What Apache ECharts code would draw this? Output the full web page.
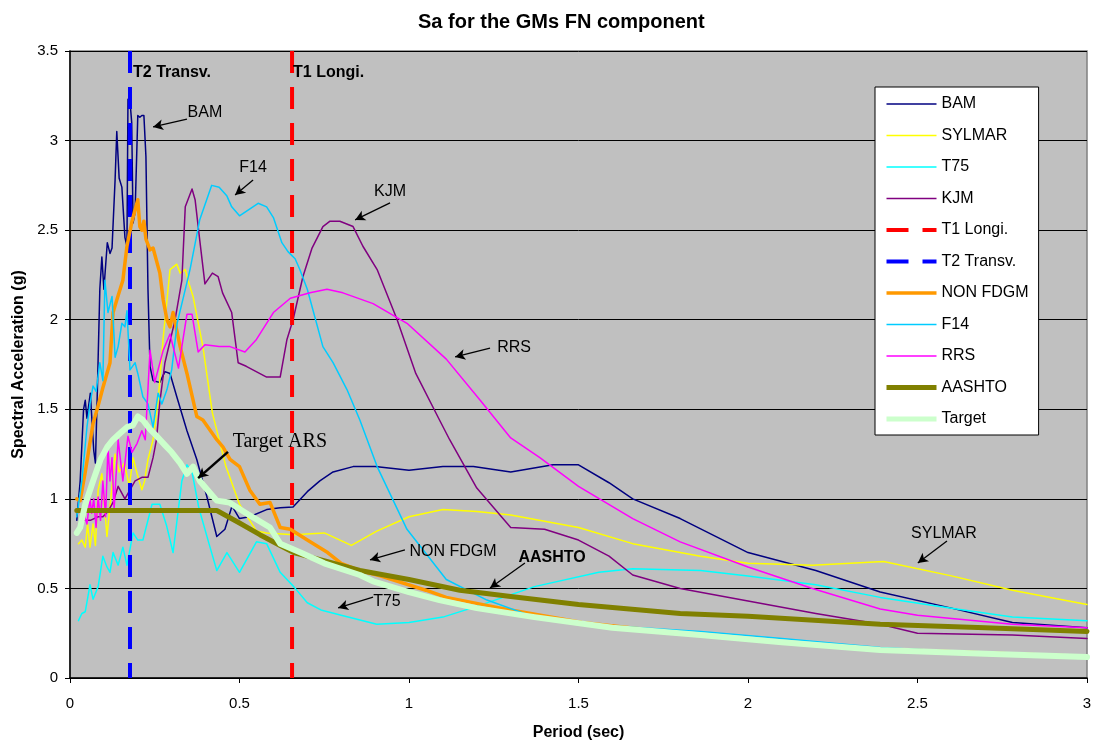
<!DOCTYPE html>
<html><head><meta charset="utf-8">
<script src="https://cdn.jsdelivr.net/npm/echarts@6/dist/echarts.min.js"></script>
<style>html,body{margin:0;padding:0;background:#fff}#c{width:1093px;height:742px}</style>
</head><body><div id="c"></div>
<script>
// ---- data (period in sec, spectral acceleration in g) ----
const bamT  = [0.02,0.03,0.04,0.045,0.05,0.06,0.07,0.075,0.08,0.088,0.094,0.1,0.11,0.118,0.124,0.133,0.138,0.145,0.153,0.162,0.168,0.171,0.177,0.182,0.186,0.192,0.2,0.206,0.212,0.218,0.224,0.23,0.236,0.245,0.265,0.28,0.295,0.315,0.345,0.374,0.404,0.433,0.457,0.478,0.5,0.53,0.58,0.62,0.658,0.7,0.737,0.776,0.835,0.9,1.0,1.1,1.19,1.3,1.425,1.5,1.59,1.66,1.8,2.0,2.2,2.39,2.6,2.78,3.0];
const bamSa = [0.88,1.1,1.5,1.55,1.45,1.59,1.27,1.2,1.55,2.17,2.35,2.17,2.43,2.37,2.4,2.78,3.05,2.79,2.74,2.46,2.41,3.23,3.22,3.1,2.54,2.6,3.14,3.13,3.14,3.14,2.91,2.17,1.74,1.66,1.65,1.71,1.7,1.57,1.38,1.22,1.01,0.79,0.83,0.96,0.89,0.9,0.94,0.95,0.955,1.04,1.1,1.15,1.18,1.18,1.16,1.18,1.18,1.15,1.19,1.19,1.09,1.0,0.89,0.7,0.6,0.48,0.39,0.31,0.28];

const sylT  = [0.025,0.03,0.035,0.045,0.052,0.059,0.068,0.075,0.083,0.094,0.109,0.124,0.133,0.145,0.16,0.175,0.186,0.198,0.212,0.22,0.23,0.245,0.26,0.275,0.295,0.315,0.325,0.34,0.348,0.363,0.392,0.42,0.46,0.5,0.53,0.55,0.58,0.66,0.75,0.83,0.905,1.0,1.1,1.2,1.3,1.5,1.66,1.86,2.0,2.19,2.4,2.6,2.78,3.0];
const sylSa = [0.75,0.74,0.77,0.73,0.86,0.73,0.86,0.74,1.05,1.14,0.79,1.07,1.25,1.15,1.2,1.07,1.23,1.14,1.05,1.1,1.22,1.33,1.55,1.9,2.28,2.31,2.26,2.28,2.22,2.13,1.85,1.48,1.18,0.97,0.88,0.82,0.81,0.8,0.81,0.74,0.82,0.9,0.94,0.93,0.91,0.84,0.75,0.68,0.64,0.63,0.65,0.57,0.49,0.41];

const t75T  = [0.025,0.035,0.045,0.059,0.068,0.083,0.097,0.109,0.118,0.127,0.142,0.156,0.168,0.186,0.2,0.215,0.242,0.265,0.285,0.304,0.33,0.345,0.36,0.38,0.41,0.433,0.463,0.5,0.55,0.58,0.62,0.66,0.7,0.74,0.8,0.905,1.0,1.1,1.2,1.37,1.56,1.66,1.86,2.0,2.2,2.39,2.6,2.78,3.0];
const t75Sa = [0.32,0.36,0.37,0.52,0.44,0.51,0.68,0.62,0.59,0.7,0.63,0.73,0.63,0.81,0.77,0.77,0.97,0.97,0.85,0.7,1.1,1.19,1.15,0.95,0.75,0.6,0.7,0.59,0.76,0.75,0.59,0.51,0.42,0.38,0.35,0.3,0.31,0.34,0.4,0.51,0.59,0.61,0.6,0.57,0.52,0.45,0.39,0.34,0.32];

const kjmT  = [0.03,0.04,0.06,0.083,0.097,0.112,0.127,0.142,0.162,0.177,0.192,0.212,0.23,0.245,0.255,0.265,0.28,0.31,0.33,0.34,0.36,0.369,0.383,0.398,0.42,0.437,0.45,0.477,0.496,0.52,0.58,0.62,0.64,0.658,0.687,0.714,0.746,0.767,0.796,0.835,0.864,0.906,0.965,1.02,1.09,1.12,1.2,1.3,1.4,1.5,1.59,1.66,1.8,2.0,2.2,2.39,2.5,2.78,3.0];
const kjmSa = [0.86,0.88,0.88,0.9,0.9,0.93,0.98,1.07,1.0,1.05,1.1,1.12,1.12,1.23,1.33,1.54,1.76,2.0,2.22,2.63,2.73,2.67,2.44,2.2,2.26,2.24,2.15,2.04,1.76,1.74,1.68,1.68,1.89,2.0,2.24,2.4,2.52,2.55,2.55,2.52,2.41,2.28,2.0,1.7,1.44,1.33,1.06,0.84,0.83,0.77,0.68,0.575,0.5,0.43,0.36,0.3,0.25,0.24,0.22];

const t1T = [0.655,0.655]; const t1Sa = [3.5,0];
const t2T = [0.177,0.177]; const t2Sa = [3.5,0];

const nonT  = [0.02,0.03,0.045,0.068,0.083,0.097,0.118,0.127,0.138,0.156,0.168,0.183,0.2,0.206,0.212,0.218,0.224,0.236,0.245,0.265,0.275,0.286,0.295,0.304,0.325,0.345,0.374,0.392,0.433,0.451,0.472,0.5,0.53,0.56,0.59,0.62,0.65,0.7,0.76,0.8,0.855,0.915,1.05,1.11,1.27,1.51,1.8,2.1,2.4,2.7,3.0];
const nonSa = [1.0,0.99,1.15,1.42,1.52,1.62,1.76,2.04,2.11,2.22,2.41,2.55,2.67,2.52,2.5,2.55,2.45,2.39,2.4,2.26,2.11,2.0,1.96,2.04,1.85,1.7,1.46,1.44,1.33,1.29,1.22,1.18,1.05,0.97,0.98,0.84,0.83,0.77,0.7,0.64,0.6,0.57,0.49,0.45,0.39,0.31,0.25,0.2,0.16,0.14,0.12];

const f14T  = [0.02,0.035,0.05,0.059,0.068,0.077,0.088,0.097,0.103,0.112,0.124,0.133,0.142,0.153,0.162,0.168,0.177,0.192,0.2,0.215,0.23,0.245,0.26,0.271,0.286,0.3,0.316,0.33,0.354,0.383,0.418,0.44,0.463,0.477,0.5,0.555,0.58,0.6,0.625,0.643,0.664,0.678,0.7,0.746,0.776,0.817,0.855,0.906,0.994,1.11,1.23,1.37,1.6,1.86,2.1,2.39,2.7,3.0];
const f14Sa = [0.9,1.1,1.4,1.53,1.63,1.6,1.76,1.66,2.22,2.04,2.13,1.79,1.85,1.98,1.96,2.05,1.72,1.76,1.7,1.57,1.53,1.4,1.59,1.53,1.61,1.72,1.98,2.09,2.28,2.56,2.75,2.74,2.69,2.63,2.58,2.65,2.63,2.57,2.43,2.38,2.34,2.28,2.17,1.85,1.76,1.61,1.44,1.18,0.83,0.55,0.435,0.34,0.29,0.26,0.22,0.17,0.14,0.12];

const rrsT  = [0.04,0.05,0.059,0.064,0.07,0.077,0.083,0.09,0.097,0.105,0.112,0.118,0.124,0.13,0.142,0.156,0.171,0.183,0.198,0.212,0.222,0.236,0.25,0.275,0.295,0.32,0.345,0.36,0.378,0.398,0.44,0.472,0.516,0.55,0.6,0.65,0.708,0.758,0.805,0.894,0.994,1.11,1.21,1.3,1.386,1.5,1.66,1.8,2.0,2.19,2.39,2.5,2.78,3.0];
const rrsSa = [0.92,0.86,1.0,0.92,1.0,0.84,1.01,0.88,1.1,0.9,1.29,1.1,1.23,0.94,1.33,1.1,1.35,1.26,1.31,1.38,1.33,1.83,1.65,1.83,1.92,1.73,2.03,2.03,1.82,1.86,1.85,1.85,1.82,1.89,2.04,2.12,2.15,2.17,2.15,2.09,1.98,1.78,1.55,1.34,1.23,1.07,0.89,0.76,0.62,0.5,0.385,0.35,0.3,0.28];

const aasT  = [0.02,0.1,0.2,0.3,0.433,0.5,0.56,0.62,0.66,0.76,0.855,1.0,1.15,1.3,1.5,1.8,2.0,2.39,2.7,3.0];
const aasSa = [0.935,0.935,0.935,0.935,0.935,0.865,0.8,0.74,0.7,0.65,0.6,0.55,0.49,0.455,0.41,0.36,0.345,0.3,0.28,0.26];

const tgtT  = [0.02,0.03,0.045,0.068,0.09,0.11,0.127,0.15,0.168,0.185,0.2,0.215,0.235,0.256,0.28,0.3,0.325,0.345,0.363,0.383,0.41,0.433,0.47,0.52,0.59,0.62,0.68,0.75,0.855,0.894,1.0,1.09,1.2,1.37,1.6,1.86,2.1,2.39,2.7,3.0];
const tgtSa = [0.81,0.84,0.97,1.1,1.22,1.29,1.33,1.37,1.4,1.41,1.46,1.44,1.39,1.35,1.3,1.26,1.2,1.14,1.18,1.1,1.04,0.99,0.98,0.92,0.84,0.75,0.7,0.64,0.575,0.54,0.48,0.435,0.39,0.34,0.28,0.24,0.2,0.156,0.135,0.117];

const xTicks = [0,0.5,1,1.5,2,2.5,3];
const yTicks = [0,0.5,1,1.5,2,2.5,3,3.5];

// annotations (data coordinates)
const annoText = ['BAM','F14','KJM','RRS','Target ARS','NON FDGM','AASHTO','T75','SYLMAR'];
const annoT    = [0.398,0.540,0.944,1.310,0.619,1.13,1.422,0.935,2.578];
const annoSa   = [3.154,2.847,2.713,1.842,1.317,0.703,0.670,0.424,0.804];
const arrowFromT  = [0.345,0.540,0.944,1.239,0.466,0.988,1.342,0.894,2.587];
const arrowFromSa = [3.12,2.78,2.652,1.842,1.262,0.715,0.642,0.452,0.765];
const arrowToT    = [0.245,0.487,0.841,1.136,0.378,0.885,1.239,0.791,2.501];
const arrowToSa   = [3.076,2.696,2.557,1.792,1.116,0.659,0.502,0.391,0.642];

const pairs = (t, s) => t.map((x, i) => [x, s[i]]);
const FONT = 'Liberation Sans, Arial, sans-serif';

const styles = {
  'BAM': ['#000080', 1.5], 'SYLMAR': ['#FFFF00', 1.5], 'T75': ['#00FFFF', 1.5], 'KJM': ['#800080', 1.5],
  'T1 Longi.': ['#FF0000', 4, true], 'T2 Transv.': ['#0000FF', 4, true], 'NON FDGM': ['#FF9900', 3.5],
  'F14': ['#00CCFF', 1.5], 'RRS': ['#FF00FF', 1.5], 'AASHTO': ['#808000', 5], 'Target': ['#CCFFCC', 6]
};

function lineSeries(name, t, s) {
  const [color, width, dash] = styles[name];
  return {
    name, type: 'line', data: pairs(t, s), symbol: 'none', showSymbol: false,
    lineStyle: { color, width, type: dash ? [22, 14] : 'solid', cap: dash ? 'butt' : 'round', join: 'round' },
    itemStyle: { color }, animation: false, silent: true
  };
}

const series = [
  lineSeries('BAM', bamT, bamSa),
  lineSeries('SYLMAR', sylT, sylSa),
  lineSeries('T75', t75T, t75Sa),
  lineSeries('KJM', kjmT, kjmSa),
  lineSeries('T1 Longi.', t1T, t1Sa),
  lineSeries('T2 Transv.', t2T, t2Sa),
  lineSeries('NON FDGM', nonT, nonSa),
  lineSeries('F14', f14T, f14Sa),
  lineSeries('RRS', rrsT, rrsSa),
  lineSeries('AASHTO', aasT, aasSa),
  lineSeries('Target', tgtT, tgtSa)
];

const annoPoints = annoText.map((t, i) => {
  const lab = { show: true, position: 'inside', color: '#000', fontSize: 16, fontFamily: FONT, formatter: '{b}' };
  if (t === 'Target ARS') { lab.fontFamily = 'Liberation Serif, Times New Roman, serif'; lab.fontSize = 20; }
  if (t === 'AASHTO') { lab.fontWeight = 'bold'; }
  return { name: t, coord: [annoT[i], annoSa[i]], label: lab };
});
annoPoints.push({ name: 'T2 Transv.', coord: [0.186, 3.382], label: { show: true, position: 'right', distance: 0, color: '#000', fontSize: 16, fontWeight: 'bold', fontFamily: FONT, formatter: '{b}' } });
annoPoints.push({ name: 'T1 Longi.', coord: [0.658, 3.382], label: { show: true, position: 'right', distance: 0, color: '#000', fontSize: 16, fontWeight: 'bold', fontFamily: FONT, formatter: '{b}' } });

const annoLines = annoText.map((t, i) => {
  const big = t === 'Target ARS';
  return [
    { coord: [arrowFromT[i], arrowFromSa[i]], symbolSize: big ? [13, 15] : [8, 10],
      lineStyle: { color: '#000', width: big ? 2.5 : 1.3, type: 'solid' } },
    { coord: [arrowToT[i], arrowToSa[i]] }
  ];
});

series.push({
  name: '_anno', type: 'line', data: [], silent: true, z: 30, animation: false,
  markLine: { silent: true, animation: false, symbol: ['none', 'arrow'], symbolSize: [8, 10],
    label: { show: false }, lineStyle: { color: '#000', type: 'solid', width: 1.3 }, data: annoLines },
  markPoint: { silent: true, animation: false, symbol: 'circle', symbolSize: 0, itemStyle: { color: 'transparent' }, data: annoPoints }
});

const legendNames = ['BAM','SYLMAR','T75','KJM','T1 Longi.','T2 Transv.','NON FDGM','F14','RRS','AASHTO','Target'];

const chart = echarts.init(document.getElementById('c'), null, { renderer: 'canvas' });
chart.setOption({
  animation: false,
  backgroundColor: '#FFFFFF',
  title: { text: 'Sa for the GMs FN component', left: 413, top: 7,
    textStyle: { fontFamily: FONT, fontSize: 20, fontWeight: 'bold', color: '#000' } },
  grid: { left: 70, right: 6, top: 51, bottom: 64, show: true, outerBoundsMode: 'none', containLabel: false,
    backgroundColor: '#C0C0C0', borderColor: '#808080', borderWidth: 1.5 },
  legend: {
    data: legendNames.map(n => {
      const [color, width, dash] = styles[n];
      return { name: n, lineStyle: { color, width: Math.min(width, 5), type: dash ? [22, 14] : 'solid', cap: 'butt' } };
    }),
    orient: 'vertical', left: 875, top: 87, padding: [9, 10, 8, 9],
    itemWidth: 50, itemHeight: 14, itemGap: 15.5,
    itemStyle: { opacity: 0, borderWidth: 0 },
    backgroundColor: '#FFFFFF', borderColor: '#000', borderWidth: 1,
    textStyle: { fontFamily: FONT, fontSize: 16, color: '#000' },
    selectedMode: false
  },
  xAxis: {
    type: 'value', min: xTicks[0], max: xTicks[xTicks.length - 1], interval: 0.5,
    name: 'Period (sec)', nameLocation: 'middle', nameGap: 47,
    nameTextStyle: { fontFamily: FONT, fontSize: 16, fontWeight: 'bold', color: '#000' },
    axisLine: { show: true, onZero: false, lineStyle: { color: '#000', width: 1.5 } },
    axisTick: { show: true, length: 5, lineStyle: { color: '#000' } },
    axisLabel: { fontFamily: FONT, fontSize: 15, color: '#000', margin: 18 },
    splitLine: { show: false }
  },
  yAxis: {
    type: 'value', min: yTicks[0], max: yTicks[yTicks.length - 1], interval: 0.5,
    name: 'Spectral Acceleration (g)', nameLocation: 'middle', nameGap: 42,
    nameTextStyle: { fontFamily: FONT, fontSize: 16, fontWeight: 'bold', color: '#000' },
    axisLine: { show: true, lineStyle: { color: '#000', width: 1.5 } },
    axisTick: { show: true, length: 5, lineStyle: { color: '#000' } },
    axisLabel: { fontFamily: FONT, fontSize: 15, color: '#000', margin: 12 },
    splitLine: { show: true, lineStyle: { color: '#000', width: 1 } }
  },
  series
});
</script>
</body></html>
